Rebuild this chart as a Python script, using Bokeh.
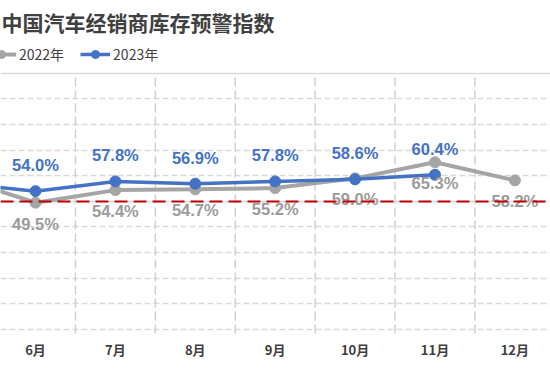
from bokeh.plotting import figure
from bokeh.models import Range1d, FixedTicker, Grid, Span, Label, Legend, LegendItem, ColumnDataSource
from bokeh.core.properties import value
from bokeh.embed import file_html
from bokeh.resources import INLINE

# ---------------- data ----------------
title_text = "中国汽车经销商库存预警指数"
months = ["5月", "6月", "7月", "8月", "9月", "10月", "11月", "12月"]
name_2022 = "2022年"
name_2023 = "2023年"
values_2022 = [59.6, 49.5, 54.4, 54.7, 55.2, 59.0, 65.3, 58.2]
values_2023 = [57.2, 54.0, 57.8, 56.9, 57.8, 58.6, 60.4]
warning_level = 50
y_ticks = list(range(0, 101, 10))
first_shown = 1  # 5月 lies left of the visible window; its labels are not shown

# ---------------- styles ----------------
GRAY = "#A5A5A5"
GRAY_TXT = "#9B9B9B"
BLUE = "#4472C4"
RED = "#C00000"
GRID = "#D9D9D9"
TXT = "#404040"
CJK = "Noto Sans CJK SC"

x22 = list(range(len(values_2022)))
x23 = list(range(len(values_2023)))

src22 = ColumnDataSource(dict(x=x22, y=values_2022))
src23 = ColumnDataSource(dict(x=x23, y=values_2023))
lab22 = ColumnDataSource(dict(x=x22[first_shown:], y=values_2022[first_shown:],
                              t=[f"{v:.1f}%" for v in values_2022[first_shown:]]))
lab23 = ColumnDataSource(dict(x=x23[first_shown:], y=values_2023[first_shown:],
                              t=[f"{v:.1f}%" for v in values_2023[first_shown:]]))

p = figure(frame_width=550, frame_height=334,
           x_range=Range1d(0.562, 7.446), y_range=Range1d(-2.0, 128.47),
           output_backend="svg", toolbar_location=None,
           min_border_left=0, min_border_right=0, min_border_top=0, min_border_bottom=44,
           y_axis_location=None, outline_line_color=None)
p.background_fill_color = "white"
p.border_fill_color = "white"

# grids
p.xgrid.visible = False
p.ygrid.ticker = FixedTicker(ticks=y_ticks[:-1])
p.ygrid.grid_line_color = GRID
p.ygrid.grid_line_width = 1.3
p.ygrid.grid_line_dash = "6 3"
top_grid = Grid(dimension=1, ticker=FixedTicker(ticks=y_ticks[-1:]),
                grid_line_color=GRID, grid_line_width=1.5)
p.add_layout(top_grid)

bounds = [i + 0.5 for i in range(len(months) - 1)]
p.segment(x0=bounds, x1=bounds, y0=[-1.6] * len(bounds), y1=[y_ticks[-1]] * len(bounds),
          line_color="#D0D0D0", line_width=1.5, line_dash="9 4")

# warning line
p.add_layout(Span(location=warning_level, dimension="width", line_color=RED,
                  line_width=2, line_dash="13 6"))

# series
l22 = p.line("x", "y", source=src22, line_color=GRAY, line_width=4)
s22 = p.scatter("x", "y", source=src22, size=11, fill_color=GRAY, line_color=GRAY)
l23 = p.line("x", "y", source=src23, line_color=BLUE, line_width=3.5)
s23 = p.scatter("x", "y", source=src23, size=11, fill_color=BLUE, line_color=BLUE)

p.text("x", "y", text="t", source=lab22, y_offset=21, text_align="center", text_baseline="middle",
       text_font=value("Liberation Sans"), text_font_style="bold", text_font_size="16.5px",
       text_color=GRAY_TXT)
p.text("x", "y", text="t", source=lab23, y_offset=-26, text_align="center", text_baseline="middle",
       text_font=value("Liberation Sans"), text_font_style="bold", text_font_size="16.5px",
       text_color=BLUE)

# x axis
p.xaxis.ticker = FixedTicker(ticks=list(range(len(months))))
p.xaxis.major_label_overrides = {i: m for i, m in enumerate(months)}
p.xaxis.axis_line_color = None
p.xaxis.major_tick_line_color = None
p.xaxis.minor_tick_line_color = None
p.xaxis.major_tick_out = 0
p.xaxis.major_label_standoff = 5
p.xaxis.major_label_text_font = CJK
p.xaxis.major_label_text_font_style = "bold"
p.xaxis.major_label_text_font_size = "13px"
p.xaxis.major_label_text_color = TXT

# title
p.add_layout(Label(x=1, y=313, x_units="screen", y_units="screen", text=title_text,
                   text_font=CJK, text_font_style="bold", text_font_size="21px",
                   text_color=TXT, text_baseline="middle"))

# legend
legend = Legend(items=[LegendItem(label=name_2022, renderers=[l22, s22]),
                       LegendItem(label=name_2023, renderers=[l23, s23])],
                orientation="horizontal", location=(-14, 270),
                glyph_width=30, glyph_height=20, label_standoff=3, spacing=16,
                padding=0, margin=0, border_line_color=None, background_fill_alpha=0,
                label_text_font=CJK, label_text_font_size="14px", label_text_color=TXT,
                label_height=20)
p.add_layout(legend)

open("out.html", "w").write(file_html(p, INLINE))
